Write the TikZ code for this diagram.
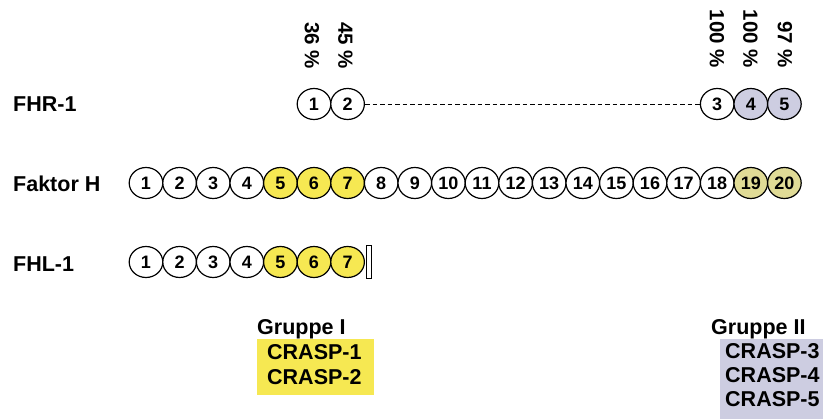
\documentclass[tikz,border=0pt]{standalone}
\usepackage{fontspec}
\setmainfont{Liberation Sans}
\usetikzlibrary{shapes.geometric}
\definecolor{scryellow}{RGB}{246,232,82}
\definecolor{scrlav}{RGB}{205,205,225}
\definecolor{scrkhaki}{RGB}{224,219,150}
\begin{document}
\begin{tikzpicture}[x=1pt,y=-1pt,
  scr/.style={ellipse, draw, line width=1.2pt, minimum width=33.6pt,
    minimum height=31pt, inner sep=0pt,
    font=\fontsize{18}{18}\selectfont\bfseries},
  lbl/.style={font=\fontsize{21.5}{24}\selectfont\bfseries, inner sep=0pt,
    anchor=base west},
  pct/.style={font=\fontsize{20.5}{22}\selectfont\bfseries, inner sep=0pt,
    rotate=-90, anchor=east},
  grpbox/.style={rectangle, inner sep=0pt, anchor=north west},
]
\useasboundingbox (0,0) rectangle (825,419);

% row labels
\node[lbl] (lfhr) at (13,112) {FHR-1};
\node[lbl] (lfh)  at (13,191.7) {Faktor H};
\node[lbl] (lfhl) at (13,272) {FHL-1};

% Faktor H: 20 SCR domains
\foreach \i/\c in {1/white,2/white,3/white,4/white,5/scryellow,6/scryellow,
  7/scryellow,8/white,9/white,10/white,11/white,12/white,13/white,14/white,
  15/white,16/white,17/white,18/white,19/scrkhaki,20/scrkhaki}
  \node[scr, fill=\c] (fh\i) at ({146+(\i-1)*33.6},183) {\i};

% FHL-1: 7 SCR domains and the C-terminal tail
\foreach \i/\c in {1/white,2/white,3/white,4/white,5/scryellow,6/scryellow,
  7/scryellow}
  \node[scr, fill=\c] (fhl\i) at ({146+(\i-1)*33.6},262) {\i};
\node[draw, line width=1.2pt, minimum width=5pt, minimum height=33pt,
  inner sep=0pt, anchor=west] (fhlend) at (365.5,262) {};

% FHR-1: 5 SCR domains aligned with the homologous Faktor H domains
\node[scr, fill=white]   (fhr1) at (314,104) {1};
\node[scr, fill=white]   (fhr2) at (347.6,104) {2};
\node[scr, fill=white]   (fhr3) at (717.2,104) {3};
\node[scr, fill=scrlav]  (fhr4) at (750.8,104) {4};
\node[scr, fill=scrlav]  (fhr5) at (784.4,104) {5};
\draw[line width=0.9pt, dash pattern=on 4.5pt off 3pt] (fhr2) -- (fhr3);

% sequence identities
\node[pct] (p1) at (312,69) {36 \%};
\node[pct] (p2) at (345.5,69) {45 \%};
\node[pct] (p3) at (717,68) {100 \%};
\node[pct] (p4) at (750.5,68) {100 \%};
\node[pct] (p5) at (785,68) {97 \%};

% binding groups
\node[grpbox, fill=scryellow, minimum width=117pt, minimum height=56pt]
  (box1) at (257,339) {};
\node[lbl] (g1) at (257,335) {Gruppe I};
\node[lbl] (c1) at (267,360) {CRASP-1};
\node[lbl] (c2) at (267,385) {CRASP-2};

\node[grpbox, fill=scrlav, minimum width=103pt, minimum height=80pt]
  (box2) at (720,339) {};
\node[lbl] (g2) at (711,335) {Gruppe II};
\node[lbl] (c3) at (725,358.5) {CRASP-3};
\node[lbl] (c4) at (725,383) {CRASP-4};
\node[lbl] (c5) at (725,407) {CRASP-5};
\end{tikzpicture}
\end{document}
